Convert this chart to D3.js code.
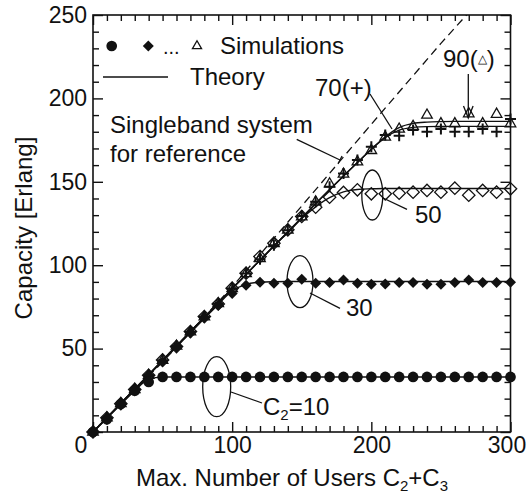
<!DOCTYPE html>
<html>
<head>
<meta charset="utf-8">
<script src="https://cdn.jsdelivr.net/npm/d3@7"></script>
<style>
  body { margin: 0; background: #fff; }
  svg { font-family: "Liberation Sans", Arial, sans-serif; }
</style>
</head>
<body>
<div id="chart"></div>
<script>
// x positions of the samples (max. number of users C2+C3)
const users = [0, 10, 20, 30, 40, 50, 60, 70, 80, 90, 100, 110, 120, 130, 140, 150,
  160, 170, 180, 190, 200, 210, 220, 230, 240, 250, 260, 270, 280, 290, 300];

// simulations
const sim10 = [0, 7.6, 16.8, 24.8, 30, 33, 33, 33, 33, 33, 33, 33, 33, 33, 33, 33,
  33, 33, 33, 33, 33, 33, 33, 33, 33, 33, 33, 33, 33, 33, 33];
const sim30 = [0, 8, 17, 25, 34, 42, 51, 60, 69, 76, 83, 88, 89.8, 89.2, 89.2, 91.6,
  89.2, 89.6, 91.2, 89.2, 88.6, 88.8, 89.6, 89.6, 88.6, 88.6, 89.6, 91.2, 89.6, 89.6, 89.8];
const sim50 = [0, 8.5, 17, 25.5, 34, 43.2, 51.2, 60.2, 69.2, 76.8, 86.2, 95.2, 105.2, 113.2, 121.2, 129.2,
  134.8, 140.8, 143.6, 145.2, 142.8, 142.8, 143.2, 143.8, 144.8, 143.8, 146.2, 142, 144.8, 143.8, 145.8];
const sim70 = [0, 8.5, 17, 25.5, 34, 43, 51.5, 60, 69, 77, 86, 95, 103.5, 112, 121, 129.5,
  138, 147, 155, 163, 171, 178, 177.6, 181, 180, 181.6, 180, 180, 181.6, 180, 187.6];
const sim90 = [0, 8.5, 17, 25.5, 34, 43, 51.5, 60, 69, 77, 86, 95, 104, 113, 121, 129,
  138, 148.8, 154.6, 162, 168.8, 176.8, 181.6, 183.2, 190, 184.8, 184.8, 190.8, 184.8, 190.5, 184.8];

// theory
const theory10 = [0, 8.3, 16.6, 24.8, 31.5, 33, 33, 33, 33, 33, 33, 33, 33, 33, 33, 33,
  33, 33, 33, 33, 33, 33, 33, 33, 33, 33, 33, 33, 33, 33, 33];
const theory30 = [0, 8.5, 17, 25.5, 34, 42.5, 51, 59.5, 68, 76.5, 84.5, 88.5, 89.8, 90.1, 90.2, 90.2,
  90.2, 90.2, 90.2, 90.2, 90.2, 90.2, 90.2, 90.2, 90.2, 90.2, 90.2, 90.2, 90.2, 90.2, 90.2];
const theory50 = [0, 8.6, 17.2, 25.8, 34.4, 43, 51.6, 60.2, 68.8, 77.4, 86, 94.5, 103, 111.5, 119.5, 128,
  135, 140.5, 144, 145.4, 145.8, 146, 146, 146, 146, 146, 146, 146, 146, 146, 146];
const theory70 = [0, 8.6, 17.2, 25.8, 34.4, 43, 51.6, 60.2, 68.8, 77.4, 86, 94.5, 103, 111.5, 120, 128.5,
  137, 145.3, 153.5, 161.5, 169.5, 176.5, 181, 182.6, 183.1, 183.2, 183.2, 183.2, 183.2, 183.2, 183.2];
const theory90 = [0, 8.6, 17.2, 25.8, 34.4, 43, 51.6, 60.2, 68.8, 77.4, 86, 94.5, 103, 111.5, 120, 128.5,
  137, 145.3, 153.5, 161.5, 169.5, 177, 182.5, 185, 185.8, 186.1, 186.2, 186.2, 186.2, 186.2, 186.2];

// singleband system for reference (dashed)
const singleX = [0, 50, 100, 150, 200, 250, 270];
const singleY = [0, 42, 87, 135.5, 184.5, 233, 251.5];

const xTicks = [0, 100, 200, 300];
const yTicks = [50, 100, 150, 200, 250];

const width = 527, height = 495;
const margin = { top: 15, right: 16.5, bottom: 63, left: 93 };

const svg = d3.select("#chart").append("svg")
  .attr("width", width)
  .attr("height", height);

const x = d3.scaleLinear().domain([0, 300]).range([margin.left, width - margin.right]);
const y = d3.scaleLinear().domain([0, 250]).range([height - margin.bottom, margin.top]);

svg.append("defs").append("clipPath").attr("id", "plot")
  .append("rect")
  .attr("x", x(0)).attr("y", y(250))
  .attr("width", x(300) - x(0)).attr("height", y(0) - y(250));

// axes with inward ticks, every 10
const minorX = d3.range(0, 301, 10), minorY = d3.range(0, 251, 10);
function styleTicks(g, majors, len) {
  g.select(".domain").remove();
  g.selectAll(".tick line")
    .attr("stroke", "#111")
    .attr("stroke-width", 1.4);
  g.selectAll(".tick").filter(d => !majors.includes(d)).select("line")
    .each(function () {
      const l = d3.select(this);
      if (l.attr("y2") !== null && +l.attr("y2") !== 0) l.attr("y2", Math.sign(+l.attr("y2")) * len);
      if (l.attr("x2") !== null && +l.attr("x2") !== 0) l.attr("x2", Math.sign(+l.attr("x2")) * len);
    });
  g.selectAll("text").style("font-size", "23px").attr("fill", "#111");
}

const fmtX = d => xTicks.includes(d) ? d : "";
const fmtY = d => yTicks.includes(d) ? d : "";

svg.append("g")
  .attr("transform", `translate(0,${y(0)})`)
  .call(d3.axisBottom(x).tickValues(minorX).tickSize(-10).tickPadding(5).tickFormat(fmtX))
  .call(g => styleTicks(g, xTicks, 6))
  .call(g => g.selectAll(".tick").filter(d => d === 0).select("text").attr("x", -12.5))
  .call(g => g.selectAll(".tick").filter(d => d === 300).select("text").attr("x", -4));

svg.append("g")
  .attr("transform", `translate(0,${y(250)})`)
  .call(d3.axisTop(x).tickValues(minorX).tickSize(-10).tickFormat(""))
  .call(g => styleTicks(g, xTicks, 6));

svg.append("g")
  .attr("transform", `translate(${x(0)},0)`)
  .call(d3.axisLeft(y).tickValues(minorY).tickSize(-10).tickPadding(6).tickFormat(fmtY))
  .call(g => styleTicks(g, [0].concat(yTicks), 6));

svg.append("g")
  .attr("transform", `translate(${x(300)},0)`)
  .call(d3.axisRight(y).tickValues(minorY).tickSize(-10).tickFormat(""))
  .call(g => styleTicks(g, [0].concat(yTicks), 6));

svg.append("rect")
  .attr("x", x(0)).attr("y", y(250))
  .attr("width", x(300) - x(0)).attr("height", y(0) - y(250))
  .attr("fill", "none").attr("stroke", "#111").attr("stroke-width", 1.6);

// dashed singleband reference
const line = d3.line().x(d => x(d[0])).y(d => y(d[1]));
svg.append("path")
  .datum(singleX.map((v, i) => [v, singleY[i]]))
  .attr("clip-path", "url(#plot)")
  .attr("d", line)
  .attr("fill", "none").attr("stroke", "#111").attr("stroke-width", 1.3)
  .attr("stroke-dasharray", "8,5");

// theory curves
const smooth = d3.line().x(d => x(d[0])).y(d => y(d[1])).curve(d3.curveMonotoneX);
[theory10, theory30, theory50, theory70, theory90].forEach(t => {
  svg.append("path")
    .datum(users.map((u, i) => [u, t[i]]))
    .attr("d", smooth)
    .attr("fill", "none").attr("stroke", "#111").attr("stroke-width", 1.4);
});

// simulation markers
const diamond = r => `M0,${-r}L${r},0L0,${r}L${-r},0Z`;
const sym = {
  circle: d3.symbol().type(d3.symbolCircle).size(90)(),
  diamond: diamond(5.5),
  odiamond: diamond(6.2),
  triangle: d3.symbol().type(d3.symbolTriangle).size(48)(),
  plus: "M-5.5,0H5.5M0,-5.5V5.5"
};

function markers(vals, kind) {
  const g = svg.append("g");
  const pts = g.selectAll("path").data(users.map((u, i) => [u, vals[i]])).join("path")
    .attr("transform", d => `translate(${x(d[0])},${y(d[1])})`)
    .attr("d", sym[kind]);
  if (kind === "plus") {
    pts.attr("fill", "none").attr("stroke", "#111").attr("stroke-width", 2);
  } else if (kind === "odiamond" || kind === "triangle") {
    pts.attr("fill", "none").attr("stroke", "#111").attr("stroke-width", 1.3);
  } else {
    pts.attr("fill", "#111");
  }
}
markers(sim90, "triangle");
markers(sim70, "plus");
markers(sim50, "odiamond");
markers(sim30, "diamond");
markers(sim10, "circle");

// axis labels
const lab = svg.append("text")
  .attr("x", 292).attr("y", 486)
  .attr("text-anchor", "middle")
  .style("font-size", "24px").attr("fill", "#111");
lab.append("tspan").text("Max. Number of Users C");
lab.append("tspan").text("2").style("font-size", "15px").attr("dy", 5);
lab.append("tspan").text("+C").attr("dy", -5);
lab.append("tspan").text("3").style("font-size", "15px").attr("dy", 5);

svg.append("text")
  .attr("transform", "translate(32,228) rotate(-90)")
  .attr("text-anchor", "middle")
  .style("font-size", "24px").attr("fill", "#111")
  .text("Capacity [Erlang]");

// legend
const leg = svg.append("g");
leg.append("path").attr("d", sym.circle).attr("transform", "translate(111.7,46)").attr("fill", "#111");
leg.append("path").attr("d", sym.diamond).attr("transform", "translate(148.3,46)").attr("fill", "#111");
leg.append("text").attr("x", 163).attr("y", 54).style("font-size", "20px").attr("fill", "#111").text("...");
leg.append("path").attr("d", d3.symbol().type(d3.symbolTriangle).size(36)()).attr("transform", "translate(197,46)")
  .attr("fill", "none").attr("stroke", "#111").attr("stroke-width", 1.3);
leg.append("text").attr("x", 220).attr("y", 54).style("font-size", "24px").attr("fill", "#111").text("Simulations");
leg.append("line").attr("x1", 103).attr("x2", 168).attr("y1", 77).attr("y2", 77)
  .attr("stroke", "#111").attr("stroke-width", 1.4);
leg.append("text").attr("x", 190).attr("y", 85).style("font-size", "24px").attr("fill", "#111").text("Theory");

// annotations
const ann = svg.append("g").attr("fill", "#111").style("font-size", "24px");
ann.append("text").attr("x", 110).attr("y", 133).text("Singleband system");
ann.append("text").attr("x", 110).attr("y", 162).text("for reference");
ann.append("line").attr("x1", 296.7).attr("y1", 139.3).attr("x2", 340).attr("y2", 160)
  .attr("stroke", "#111").attr("stroke-width", 1.3);
ann.append("line").attr("x1", 338).attr("y1", 164).attr("x2", 342).attr("y2", 156)
  .attr("stroke", "#111").attr("stroke-width", 1.3);

ann.append("text").attr("x", 315).attr("y", 96).text("70(+)");
ann.append("line").attr("x1", 370).attr("y1", 94).attr("x2", 392).attr("y2", 129)
  .attr("stroke", "#111").attr("stroke-width", 1.3);

const t90 = ann.append("text").attr("x", 443).attr("y", 67);
t90.append("tspan").text("90(");
t90.append("tspan").text("\u25B3").style("font-size", "12px").attr("dy", -4);
t90.append("tspan").text(")").attr("dy", 4);
ann.append("line").attr("x1", 468.3).attr("y1", 74).attr("x2", 468.3).attr("y2", 118)
  .attr("stroke", "#111").attr("stroke-width", 1.3);
ann.append("path").attr("d", "M463.5,106L468.3,118L473.1,106")
  .attr("fill", "none").attr("stroke", "#111").attr("stroke-width", 1.3);

[[372.3, 195, 10.5, 25], [300, 281.7, 13, 26], [216.7, 386.7, 14, 30]].forEach(e => {
  ann.append("ellipse").attr("cx", e[0]).attr("cy", e[1]).attr("rx", e[2]).attr("ry", e[3])
    .attr("fill", "none").attr("stroke", "#111").attr("stroke-width", 1.3);
});
ann.append("line").attr("x1", 383).attr("y1", 198).attr("x2", 407).attr("y2", 209.3)
  .attr("stroke", "#111").attr("stroke-width", 1.3);
ann.append("text").attr("x", 415).attr("y", 223).text("50");
ann.append("line").attr("x1", 310).attr("y1", 293).attr("x2", 340).attr("y2", 308.3)
  .attr("stroke", "#111").attr("stroke-width", 1.3);
ann.append("text").attr("x", 346).attr("y", 316).text("30");
ann.append("line").attr("x1", 231).attr("y1", 392).attr("x2", 262).attr("y2", 403)
  .attr("stroke", "#111").attr("stroke-width", 1.3);
const c10 = ann.append("text").attr("x", 263).attr("y", 415);
c10.append("tspan").text("C");
c10.append("tspan").text("2").style("font-size", "15px").attr("dy", 5);
c10.append("tspan").text("=10").attr("dy", -5);
</script>
</body>
</html>
